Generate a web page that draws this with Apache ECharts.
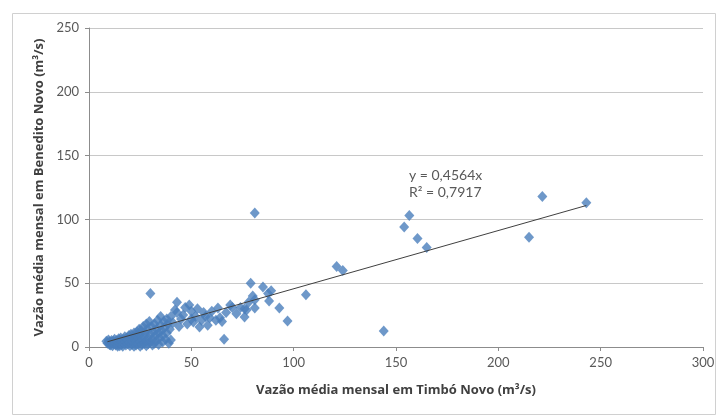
<!DOCTYPE html>
<html><head><meta charset="utf-8">
<script src="https://cdn.jsdelivr.net/npm/echarts@6/dist/echarts.min.js"></script>
<style>html,body{margin:0;padding:0;background:#fff}#c{width:723px;height:418px}</style>
</head><body><div id="c"></div>
<script>
// Vazão média mensal: Timbó Novo (x) vs Benedito Novo (y), m³/s
const timboNovo = [
 8.5,9,9.5,10,10,10.5,11,11,11.5,12,12,12.5,13,13,13.5,14,14,14,14.5,15,15,15,
 15.5,16,16,16.5,17,17,17.5,18,18,18.5,19,19,19.5,20,20,20,20.5,21,21,21.5,22,22,22,22.5,23,23,23,23.5,24,24,24.5,25,25,25,
 25.5,26,26,26.5,27,27,27.5,28,28,28,28.5,29,29,29.5,30,30,30,30.5,31,31,31.5,32,32,32.5,33,33,33.5,34,34,34.5,35,35,35.5,36,36,36.5,37,37.5,38,38,38.5,39,39.5,40,40,
 41,42,43,43,44,45,46,47,48,49,50,50,51,52,53,54,55,56,57,58,59,60,62,63,64,65,66,67,69,70,72,74,76,76,77,78,79,80,81,81,81,
 85,87.5,88,89,93,97,106,121,124,144,154,156.5,160.5,165,215,221.5,243
];
const beneditoNovo = [
 4.5,3,5.5,2,4,1.5,3.5,5,1,2.5,4.5,6,1.5,3,5,0.5,2,4,6.5,1,3,5,
 7,2,4.5,0.5,3,6,8,1.5,4,7,2.5,5.5,9,1,3.5,6.5,10,2,5,8,0.5,3,11,6,1.5,4,9,12,2.5,7,14,0.5,4,10,
 13,2,6,16,3,8.5,11,1,5,18,14,2.5,7,20,4,10,42,16,1.5,6,12,3,18,9,5,14,21,2,11,7,17,24,13,4,9,20,15,6,22,11,18,3,14,24,5.5,
 19,29,35,27,16,22,25,31,18,33,28,22,19.6,24,30,15.7,21,27,24,17,23,28,21,30.6,23,20,6,27,33,31,26,31,23.5,30,29,35,50,40,37,30.6,105,
 47,42,36,44,30.6,20.4,41,63,60,12.5,94,103,85,78,86,118,113
];
const trendSlope = 0.4564;
const trendX = [9, 243];
const xTicks = [0, 50, 100, 150, 200, 250, 300];
const yTicks = [0, 50, 100, 150, 200, 250];

const points = timboNovo.map((x, i) => [x, beneditoNovo[i]]);
const trend = trendX.map(x => [x, trendSlope * x]);

const chart = echarts.init(document.getElementById('c'));
const font = 'Lato, "Open Sans", sans-serif';
const titleFont = '"Open Sans", Lato, sans-serif';
chart.setOption({
  animation: false,
  backgroundColor: '#fff',
  grid: { left: 89, right: 20, top: 28, bottom: 71 },
  xAxis: {
    type: 'value', min: xTicks[0], max: xTicks[xTicks.length - 1], interval: 50,
    name: 'Vazão média mensal em Timbó Novo (m³/s)',
    nameLocation: 'middle', nameGap: 37,
    nameTextStyle: { fontFamily: titleFont, fontWeight: 'bold', fontSize: 13, color: '#404040' },
    axisLine: { lineStyle: { color: '#8c8c8c' } },
    axisTick: { show: true, length: 4, lineStyle: { color: '#8c8c8c' } },
    axisLabel: { fontFamily: font, fontSize: 13, color: '#595959', margin: 9 },
    splitLine: { show: false }
  },
  yAxis: {
    type: 'value', min: yTicks[0], max: yTicks[yTicks.length - 1], interval: 50,
    name: 'Vazão média mensal em Benedito Novo (m³/s)',
    nameLocation: 'middle', nameGap: 43,
    nameTextStyle: { fontFamily: titleFont, fontWeight: 'bold', fontSize: 13, color: '#404040' },
    axisLine: { show: true, lineStyle: { color: '#8c8c8c' } },
    axisTick: { show: true, length: 4, lineStyle: { color: '#8c8c8c' } },
    axisLabel: { fontFamily: font, fontSize: 13, color: '#595959', margin: 10 },
    splitLine: { lineStyle: { color: '#c8c8c8', width: 1 } }
  },
  series: [
    {
      type: 'scatter', data: points, symbol: 'diamond', symbolSize: [10, 11],
      itemStyle: { color: '#4a7ebb' }, z: 2
    },
    {
      type: 'line', data: trend, symbol: 'none',
      lineStyle: { color: '#404040', width: 1 }, z: 3
    }
  ],
  graphic: [
    { type: 'rect', left: 10, top: 11, shape: { width: 703, height: 401 },
      style: { fill: 'none', stroke: '#d0d0d0', lineWidth: 1 }, silent: true },
    { type: 'text', left: 409, top: 168,
      style: { text: 'y = 0,4564x', fontFamily: font, fontSize: 14, fill: '#595959' } },
    { type: 'text', left: 409, top: 185,
      style: { text: 'R² = 0,7917', fontFamily: font, fontSize: 14, fill: '#595959' } }
  ]
});
</script></body></html>
